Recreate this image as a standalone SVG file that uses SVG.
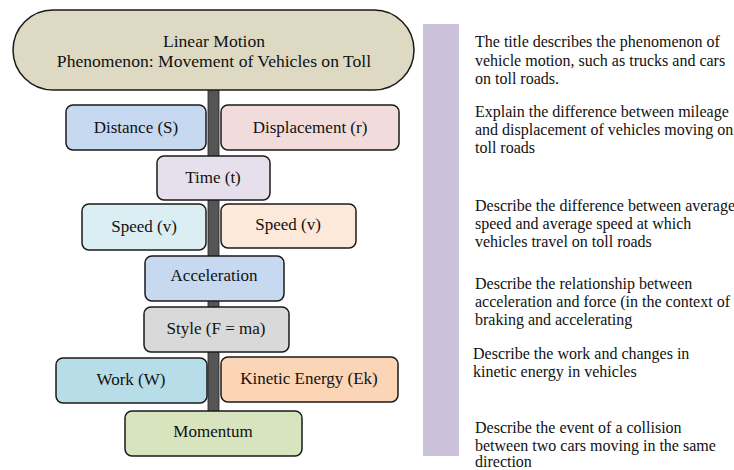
<svg xmlns="http://www.w3.org/2000/svg" width="734" height="470" viewBox="0 0 734 470">
<style>
.box{stroke:#1a1a1a;stroke-width:1.5}
.lbl{font-family:"Liberation Serif",serif;font-size:17px;fill:#111;text-anchor:middle}
.ttl{font-family:"Liberation Serif",serif;font-size:17.6px;fill:#111;text-anchor:middle}
.note{font-family:"Liberation Serif",serif;font-size:16px;fill:#111}
</style>
<rect width="734" height="470" fill="#fff"/>
<g id="connectors">
<rect x="208" y="86" width="11" height="326" fill="#555" stroke="#222" stroke-width="0.8"/>
</g>
<g id="title">
<rect class="box" x="13" y="10" width="401" height="80" rx="40" ry="40" fill="#ddd9c3"/>
<text class="ttl" x="214" y="47">Linear Motion</text>
<text class="ttl" x="214" y="67">Phenomenon: Movement of Vehicles on Toll</text>
</g>
<g id="distance">
<rect class="box" x="66" y="105" width="140" height="45" rx="7" fill="#c6d9f0"/>
<text class="lbl" x="136" y="133">Distance (S)</text>
</g>
<g id="displacement">
<rect class="box" x="221" y="105" width="178" height="45" rx="7" fill="#f2dcdb"/>
<text class="lbl" x="310" y="133">Displacement (r)</text>
</g>
<g id="time">
<rect class="box" x="157" y="156" width="113" height="44" rx="7" fill="#e5e0ec"/>
<text class="lbl" x="213" y="183">Time (t)</text>
</g>
<g id="speed-left">
<rect class="box" x="82" y="204" width="124" height="46" rx="7" fill="#dbeef3"/>
<text class="lbl" x="144" y="232">Speed (v)</text>
</g>
<g id="speed-right">
<rect class="box" x="221" y="204" width="135" height="44" rx="7" fill="#fde9d9"/>
<text class="lbl" x="288" y="230">Speed (v)</text>
</g>
<g id="acceleration">
<rect class="box" x="145" y="256" width="139" height="45" rx="7" fill="#c6d9f0"/>
<text class="lbl" x="214" y="281">Acceleration</text>
</g>
<g id="style">
<rect class="box" x="144" y="307" width="145" height="45" rx="7" fill="#d9d9d9"/>
<text class="lbl" x="216" y="334">Style (F = ma)</text>
</g>
<g id="work">
<rect class="box" x="56" y="358" width="151" height="45" rx="7" fill="#b7dde8"/>
<text class="lbl" x="131" y="385">Work (W)</text>
</g>
<g id="kinetic">
<rect class="box" x="221" y="357" width="177" height="45" rx="7" fill="#fbd5b5"/>
<text class="lbl" x="309" y="384">Kinetic Energy (Ek)</text>
</g>
<g id="momentum">
<rect class="box" x="125" y="411" width="177" height="45" rx="7" fill="#d7e4bd"/>
<text class="lbl" x="213" y="437">Momentum</text>
</g>
<g id="side-bar">
<rect x="423" y="24" width="36" height="432" fill="#ccc1da"/>
</g>
<g id="notes">
<text class="note" x="475" y="47">The title describes the phenomenon of</text>
<text class="note" x="475" y="65.5">vehicle motion, such as trucks and cars</text>
<text class="note" x="475" y="84">on toll roads.</text>
<text class="note" x="475" y="117">Explain the difference between mileage</text>
<text class="note" x="475" y="135">and displacement of vehicles moving on</text>
<text class="note" x="475" y="153">toll roads</text>
<text class="note" x="475" y="211">Describe the difference between average</text>
<text class="note" x="475" y="229">speed and average speed at which</text>
<text class="note" x="475" y="247">vehicles travel on toll roads</text>
<text class="note" x="475" y="289">Describe the relationship between</text>
<text class="note" x="475" y="307">acceleration and force (in the context of</text>
<text class="note" x="475" y="325">braking and accelerating</text>
<text class="note" x="473" y="359">Describe the work and changes in</text>
<text class="note" x="473" y="377">kinetic energy in vehicles</text>
<text class="note" x="475" y="433">Describe the event of a collision</text>
<text class="note" x="475" y="451">between two cars moving in the same</text>
<text class="note" x="475" y="467">direction</text>
</g>
</svg>
